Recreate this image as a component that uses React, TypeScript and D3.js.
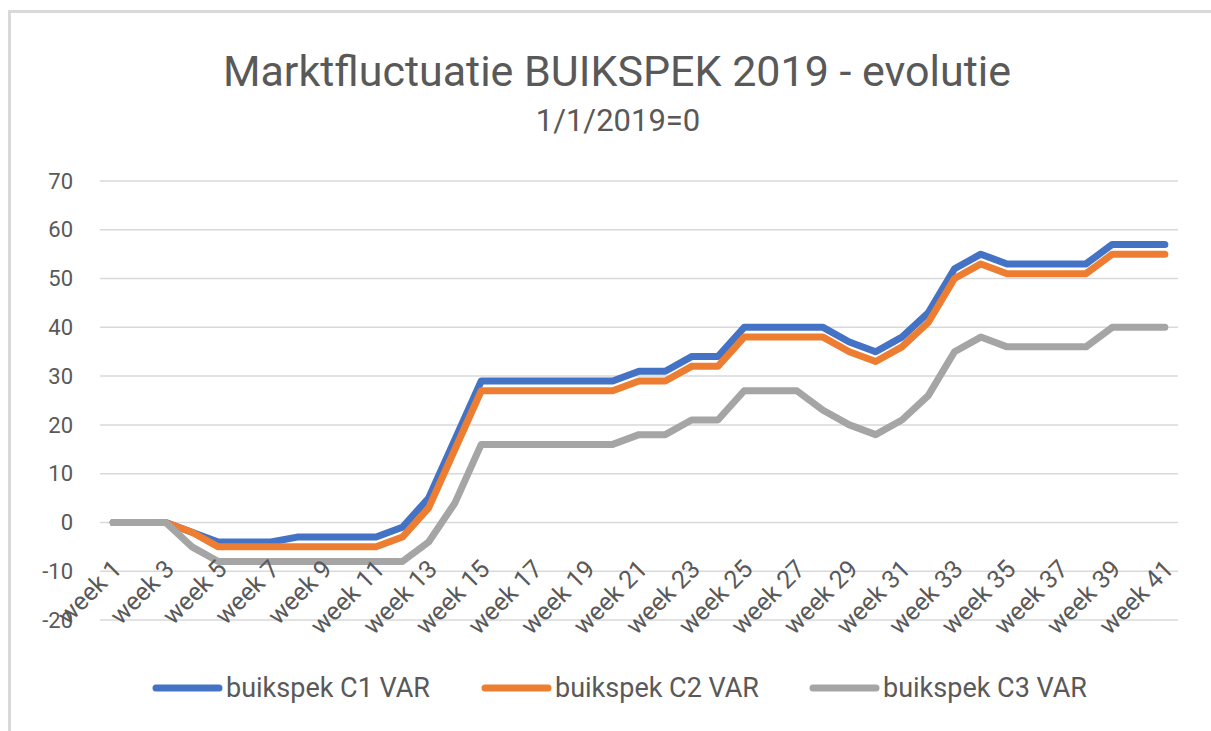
import React, { useRef, useEffect } from "react";
import * as d3 from "d3";

const weeks = [
  "week 1", "week 2", "week 3", "week 4", "week 5", "week 6", "week 7", "week 8", "week 9", "week 10",
  "week 11", "week 12", "week 13", "week 14", "week 15", "week 16", "week 17", "week 18", "week 19", "week 20",
  "week 21", "week 22", "week 23", "week 24", "week 25", "week 26", "week 27", "week 28", "week 29", "week 30",
  "week 31", "week 32", "week 33", "week 34", "week 35", "week 36", "week 37", "week 38", "week 39", "week 40",
  "week 41",
];

const c1 = [0, 0, 0, -2, -4, -4, -4, -3, -3, -3, -3, -1, 5, 17, 29, 29, 29, 29, 29, 29, 31, 31, 34, 34, 40, 40, 40, 40, 37, 35, 38, 43, 52, 55, 53, 53, 53, 53, 57, 57, 57];
const c2 = [0, 0, 0, -2, -5, -5, -5, -5, -5, -5, -5, -3, 3, 15, 27, 27, 27, 27, 27, 27, 29, 29, 32, 32, 38, 38, 38, 38, 35, 33, 36, 41, 50, 53, 51, 51, 51, 51, 55, 55, 55];
const c3 = [0, 0, 0, -5, -8, -8, -8, -8, -8, -8, -8, -8, -4, 4, 16, 16, 16, 16, 16, 16, 18, 18, 21, 21, 27, 27, 27, 23, 20, 18, 21, 26, 35, 38, 36, 36, 36, 36, 40, 40, 40];

const seriesNames = ["buikspek C1 VAR", "buikspek C2 VAR", "buikspek C3 VAR"];
const colors = ["#4472C4", "#ED7D31", "#A5A5A5"];
const yTicks = [-20, -10, 0, 10, 20, 30, 40, 50, 60, 70];

const FONT = "'Roboto', 'Liberation Sans', sans-serif";

function App() {
  const svgRef = useRef(null);

  useEffect(() => {
    document.body.style.margin = "0";
    const svg = d3.select(svgRef.current);
    svg.selectAll("*").remove();

    const x = d3.scalePoint().domain(weeks).range([100, 1178]).padding(0.5);
    const y = d3.scaleLinear().domain([-20, 70]).range([620, 181]);

    // chart frame
    svg.append("rect")
      .attr("x", 9.5).attr("y", 11.5)
      .attr("width", 1220).attr("height", 740)
      .attr("fill", "#fff").attr("stroke", "#D9D9D9").attr("stroke-width", 3);

    // titles
    svg.append("text")
      .attr("x", 617).attr("y", 86)
      .attr("text-anchor", "middle")
      .attr("font-family", FONT).attr("font-size", 43)
      .attr("fill", "#595959")
      .text("Marktfluctuatie BUIKSPEK 2019 - evolutie");
    svg.append("text")
      .attr("x", 618).attr("y", 131)
      .attr("text-anchor", "middle")
      .attr("font-family", FONT).attr("font-size", 31)
      .attr("fill", "#595959")
      .text("1/1/2019=0");

    // gridlines + y labels
    const grid = svg.append("g");
    grid.selectAll("line")
      .data(yTicks)
      .join("line")
      .attr("x1", 100).attr("x2", 1178)
      .attr("y1", (d) => y(d)).attr("y2", (d) => y(d))
      .attr("stroke", "#D9D9D9").attr("stroke-width", 1.5);
    grid.selectAll("text")
      .data(yTicks)
      .join("text")
      .attr("x", 73).attr("y", (d) => y(d))
      .attr("dy", "0.35em")
      .attr("text-anchor", "end")
      .attr("font-family", FONT).attr("font-size", 22)
      .attr("fill", "#595959")
      .text((d) => d);

    // lines
    const line = d3.line()
      .x((d, i) => x(weeks[i]))
      .y((d) => y(d));
    [c1, c2, c3].forEach((s, k) => {
      svg.append("path")
        .datum(s)
        .attr("d", line)
        .attr("fill", "none")
        .attr("stroke", colors[k])
        .attr("stroke-width", 7)
        .attr("stroke-linejoin", "round")
        .attr("stroke-linecap", "round");
    });

    // x labels, every other week, rotated
    svg.append("g")
      .selectAll("text")
      .data(weeks.filter((d, i) => i % 2 === 0))
      .join("text")
      .attr("transform", (d) => `translate(${x(d) + 10},${y(0) + 48}) rotate(-45)`)
      .attr("text-anchor", "end")
      .attr("font-family", FONT).attr("font-size", 25)
      .attr("fill", "#595959")
      .text((d) => d);

    // legend
    const legendX = [153, 482, 810];
    const lg = svg.append("g");
    seriesNames.forEach((name, k) => {
      lg.append("line")
        .attr("x1", legendX[k] + 3).attr("x2", legendX[k] + 66)
        .attr("y1", 688).attr("y2", 688)
        .attr("stroke", colors[k]).attr("stroke-width", 7)
        .attr("stroke-linecap", "round");
      lg.append("text")
        .attr("x", legendX[k] + 73).attr("y", 688)
        .attr("dy", "0.35em")
        .attr("font-family", FONT).attr("font-size", 27)
        .attr("fill", "#595959")
        .text(name);
    });
  }, []);

  return <svg ref={svgRef} width={1211} height={731} style={{ display: "block" }}></svg>;
}

export default App;
